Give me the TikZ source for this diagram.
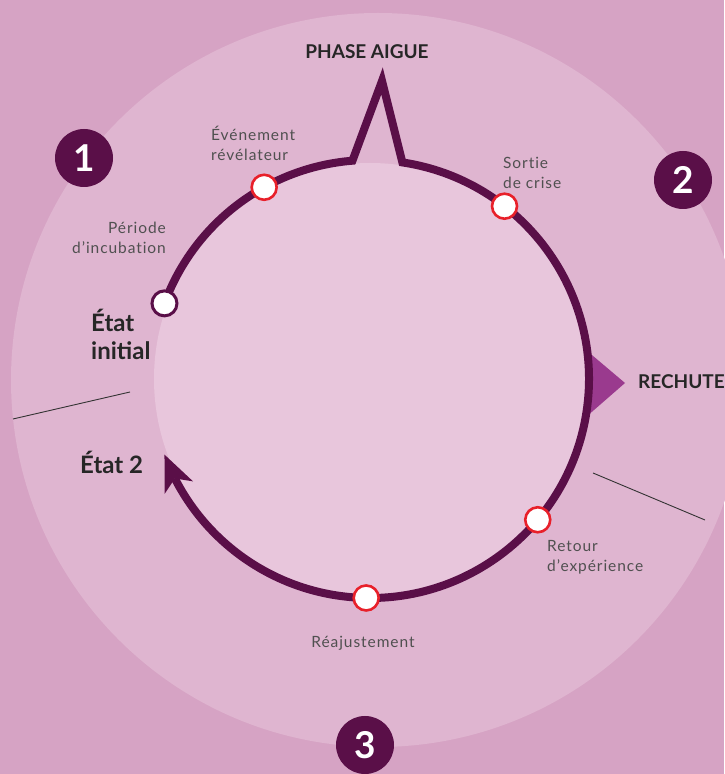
\documentclass[tikz,border=0pt]{standalone}
\usepackage{fontspec}
\setmainfont{Lato}
\newfontfamily\lightfont[LetterSpace=6,Ligatures=NoCommon]{Lato}
\usetikzlibrary{arrows.meta,bending,calc}
\definecolor{bgpink}{HTML}{D6A3C4}
\definecolor{midpink}{HTML}{DFB5D0}
\definecolor{lightpink}{HTML}{E8C6DC}
\definecolor{plum}{HTML}{5A0F48}
\definecolor{rechute}{HTML}{9A3A8E}
\definecolor{evred}{HTML}{E8202A}
\definecolor{txtgrey}{HTML}{505050}
\definecolor{txtdark}{HTML}{262626}
\begin{document}
\begin{tikzpicture}[x=1pt,y=1pt,
 ring/.style={draw=plum,line width=8pt,line join=miter},
 event/.style={circle,fill=white,draw=evred,line width=2.6pt,minimum size=25pt,inner sep=0pt},
 startnode/.style={circle,fill=white,draw=plum,line width=3pt,minimum size=25pt,inner sep=0pt},
 badge/.style={circle,fill=plum,text=white,minimum size=58pt,inner sep=0pt,font=\fontsize{37}{40}\selectfont\bfseries},
 smalllabel/.style={font=\lightfont\fontsize{15.5}{20}\selectfont,text=txtgrey,inner sep=0pt},
 boldlabel/.style={font=\fontsize{24}{28}\selectfont\bfseries,text=txtdark,inner sep=0pt},
 caplabel/.style={font=\fontsize{19}{22}\selectfont\bfseries,text=txtdark,inner sep=0pt},
 thinline/.style={draw=black!80,line width=0.9pt}]
\fill[bgpink] (0,0) rectangle (724,774);
\useasboundingbox (0,0) rectangle (724,774);
\fill[midpink] (378,394) circle (367);
\coordinate (c) at (370,395);
\fill[lightpink] (c) circle (216);
% rechute marker
\coordinate (r1) at (586,424);
\coordinate (r2) at (625,391);
\coordinate (r3) at (586,357);
\fill[rechute] (r1) -- (r2) -- (r3) -- cycle;
% ring
\coordinate (peak) at (382,693);
\draw[ring,-{Stealth[length=36pt,width=31pt,inset=10pt,line width=0pt]}]
  ($(c)+(159.8:219)$) arc[start angle=159.8,end angle=94.6,radius=219]
  -- (peak) -- ($(c)+(81.5:219)$) arc[start angle=81.5,end angle=-159.8,radius=219];
% nodes on ring
\node[startnode] (init) at ($(c)+(159.8:219)$) {};
\node[event] (evt) at ($(c)+(118.9:219)$) {};
\node[event] (sortie) at ($(c)+(52.1:219)$) {};
\node[event] (retour) at ($(c)+(-40:219)$) {};
\node[event] (reaj) at ($(c)+(-91:219)$) {};
% labels
\node[caplabel] (phase) at (367,722) {PHASE AIGUE};
\node[smalllabel,align=left,anchor=west] (levt) at (211,631) {Événement\\révélateur};
\node[smalllabel,align=left,anchor=west] (lsortie) at (503,601) {Sortie\\de crise};
\node[smalllabel,align=right,anchor=east] (lincub) at (166,536) {Période\\d’incubation};
\node[boldlabel,align=left,anchor=west] (linit) at (91,440) {État\\initial};
\node[boldlabel,anchor=west] (letat2) at (80,312) {État 2};
\node[caplabel,anchor=west] (lrechute) at (638,392) {RECHUTE};
\node[smalllabel,align=left,anchor=west] (lretour) at (547,217) {Retour\\d’expérience};
\node[smalllabel] (lreaj) at (363,131) {Réajustement};
% badges
\node[badge] (b1) at (84,616) {1};
\node[badge] (b2) at (683,594) {2};
\node[badge] (b3) at (365,29) {3};
% thin separator lines
\coordinate (s1a) at (13,355);
\coordinate (s1b) at (130,382);
\coordinate (s2a) at (593,301);
\coordinate (s2b) at (705,254);
\draw[thinline] (s1a) -- (s1b);
\draw[thinline] (s2a) -- (s2b);
\end{tikzpicture}
\end{document}
